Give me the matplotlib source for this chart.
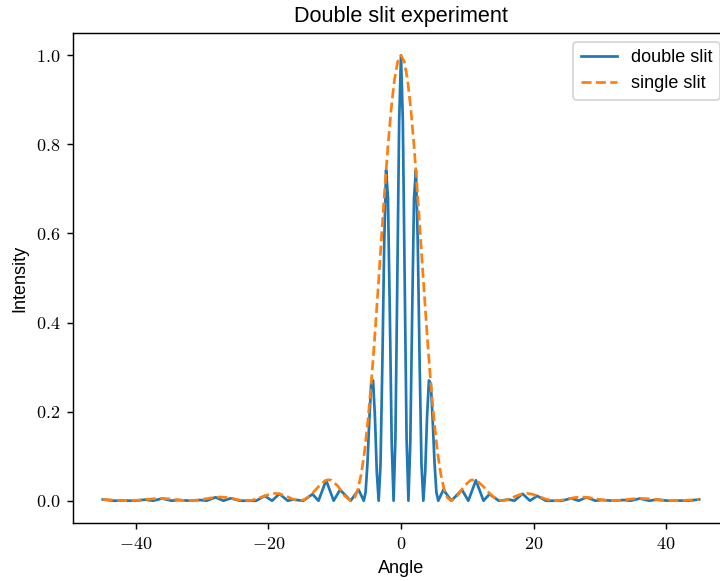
import matplotlib
matplotlib.use("Agg")
import matplotlib.pyplot as plt
from matplotlib.ticker import FuncFormatter

plt.rcParams['font.family'] = ['Liberation Sans', 'DejaVu Sans']
plt.rcParams['mathtext.fontset'] = 'cm'

# Double-slit curve: fringe peaks, flanks and zeros (angle in degrees)
double_angle = [
    -45.0, -43.31, -42.3, -40.3, -38.6, -37.42, -36.05, -34.64, -33.6, -31.95,
    -30.3, -29.34, -28.0, -26.8, -25.7, -24.31, -21.86, -20.55, -19.46, -18.35,
    -17.1, -16.3, -14.76, -13.35, -12.45, -11.3, -10.16, -9.2, -7.6, -6.4,
    -5.62, -5.342, -5.06, -4.778, -4.5, -4.215, -3.93, -3.652, -3.37, -3.09,
    -2.81, -2.527, -2.25, -1.966, -1.69, -1.404, -1.12, -0.842, -0.56, -0.281,
    0.0,
    0.281, 0.56, 0.842, 1.12, 1.404, 1.69, 1.966, 2.25, 2.527, 2.81,
    3.09, 3.37, 3.652, 3.93, 4.215, 4.5, 4.778, 5.06, 5.342, 5.62,
    6.4, 7.6, 9.2, 10.16, 11.3, 12.45, 13.35, 14.76, 16.3,
    17.1, 18.35, 19.46, 20.55, 21.86, 24.31, 25.7, 26.8, 28.0, 29.34,
    30.3, 31.95, 33.6, 34.64, 36.05, 37.42, 38.6, 40.3, 42.3, 43.31,
    45.0,
]
double_intensity = [
    0.0028, 0.0, 0.0003, 0.0, 0.0024, 0.0, 0.0050, 0.0, 0.0016, 0.0,
    0.00165, 0.0, 0.0077, 0.0, 0.0055, 0.0, 0.0, 0.0108, 0.0, 0.0155,
    0.0, 0.0026, 0.0, 0.0147, 0.0, 0.0459, 0.0, 0.0246, 0.0, 0.0247,
    0.0, 0.0191, 0.085, 0.182, 0.263, 0.270, 0.187, 0.0635, 0.0, 0.0818,
    0.311, 0.583, 0.742, 0.680, 0.424, 0.1305, 0.0, 0.1405, 0.491, 0.850,
    1.0,
    0.850, 0.491, 0.1405, 0.0, 0.1305, 0.424, 0.680, 0.742, 0.583, 0.311,
    0.0818, 0.0, 0.0635, 0.187, 0.270, 0.263, 0.182, 0.085, 0.0191, 0.0,
    0.0247, 0.0, 0.0246, 0.0, 0.0459, 0.0, 0.0147, 0.0, 0.0026,
    0.0, 0.0155, 0.0, 0.0108, 0.0, 0.0, 0.0055, 0.0, 0.0077, 0.0,
    0.00165, 0.0, 0.0016, 0.0, 0.0050, 0.0, 0.0024, 0.0, 0.0003, 0.0,
    0.0028,
]

# Single-slit envelope
single_angle = [
    -45.0, -43.7, -42.5, -41.3, -39.5, -38.3, -37.2, -36.2, -35.2, -34.2,
    -33.0, -31.87, -30.5, -29.3, -28.3, -27.3, -26.3, -25.3, -24.3, -23.33,
    -22.5, -21.7, -20.7, -19.7, -19.0, -18.3, -17.3, -16.3, -15.31, -14.5,
    -13.5, -12.5, -11.5, -11.0, -10.5, -9.5, -8.5, -7.59, -7.0, -6.5,
    -6.0, -5.5, -5.0, -4.5, -4.0, -3.5, -3.0, -2.5, -2.0, -1.5,
    -1.0, -0.5, 0.0, 0.5, 1.0, 1.5, 2.0, 2.5, 3.0, 3.5,
    4.0, 4.5, 5.0, 5.5, 6.0, 6.5, 7.0, 7.59, 8.5, 9.5,
    10.5, 11.0, 11.5, 12.5, 13.5, 14.5, 15.31, 16.3, 17.3, 18.3,
    19.0, 19.7, 20.7, 21.7, 22.5, 23.33, 24.3, 25.3, 26.3, 27.3,
    28.3, 29.3, 30.5, 31.87, 33.0, 34.2, 35.2, 36.2, 37.2, 38.3,
    39.5, 41.3, 42.5, 43.7, 45.0,
]
single_intensity = [
    0.00286, 0.00166, 0.00051, 0.0, 0.00127, 0.00307, 0.00453, 0.00503, 0.00444, 0.00294,
    0.00088, 0.0, 0.0015, 0.00466, 0.00722, 0.00834, 0.00729, 0.00444, 0.00136, 0.0,
    0.00117, 0.00441, 0.01016, 0.01509, 0.01647, 0.01543, 0.01016, 0.00335, 0.0, 0.00286,
    0.0143, 0.03089, 0.04437, 0.04709, 0.04602, 0.03245, 0.01091, 0.0, 0.00681, 0.02587,
    0.05975, 0.11055, 0.17843, 0.26222, 0.35992, 0.46715, 0.57853, 0.68857, 0.79025, 0.87694,
    0.94385, 0.98567, 1.0, 0.98567, 0.94385, 0.87694, 0.79025, 0.68857, 0.57853, 0.46715,
    0.35992, 0.26222, 0.17843, 0.11055, 0.05975, 0.02587, 0.00681, 0.0, 0.01091, 0.03245,
    0.04602, 0.04709, 0.04437, 0.03089, 0.0143, 0.00286, 0.0, 0.00335, 0.01016, 0.01543,
    0.01647, 0.01509, 0.01016, 0.00441, 0.00117, 0.0, 0.00136, 0.00444, 0.00729, 0.00834,
    0.00722, 0.00466, 0.0015, 0.0, 0.00088, 0.00294, 0.00444, 0.00503, 0.00453, 0.00307,
    0.00127, 0.0, 0.00051, 0.00166, 0.00286,
]

DPI = 130
fig = plt.figure(figsize=(720 / DPI, 581 / DPI), dpi=DPI)
ax = fig.add_axes([73 / 720, 58 / 581, (729 - 73) / 720, (523 - 33) / 581])

ax.plot(double_angle, double_intensity, color='tab:blue', label='double slit')
ax.plot(single_angle, single_intensity, color='tab:orange', ls='--', label='single slit')

ax.set_title('Double slit experiment')
ax.set_xlabel('Angle')
ax.set_ylabel('Intensity')

ax.xaxis.set_major_formatter(FuncFormatter(lambda v, p: r'$%d$' % round(v)))
ax.yaxis.set_major_formatter(FuncFormatter(lambda v, p: r'$%.1f$' % v))

ax.legend(loc='upper right')

fig.savefig('out.png', dpi=DPI)
